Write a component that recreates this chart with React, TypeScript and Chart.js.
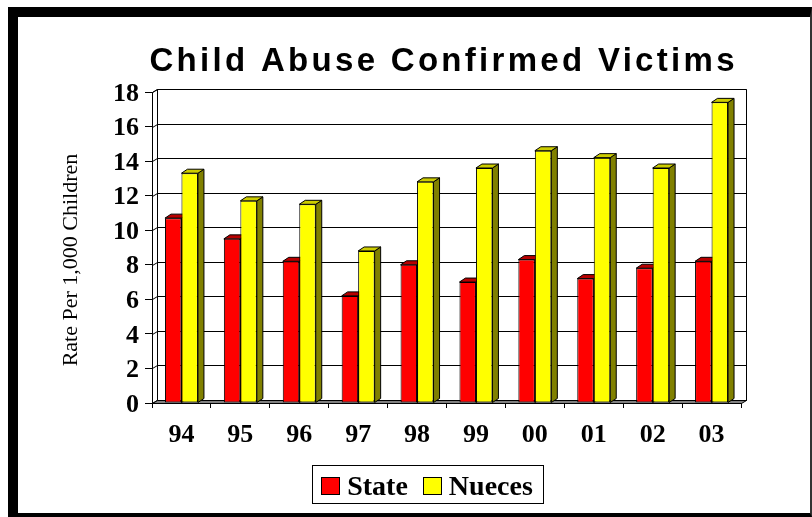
import React, { useEffect, useRef } from 'react';
import { Chart, registerables } from 'chart.js';

Chart.register(...registerables);

const TITLE = 'Child Abuse Confirmed Victims';
const Y_TITLE = 'Rate Per 1,000 Children';
const YEARS = ['94', '95', '96', '97', '98', '99', '00', '01', '02', '03'];
const STATE = [10.7, 9.5, 8.2, 6.2, 8.0, 7.0, 8.3, 7.2, 7.8, 8.2];
const NUECES = [13.3, 11.7, 11.5, 8.8, 12.8, 13.6, 14.6, 14.2, 13.6, 17.4];
const SERIES_NAMES = ['State', 'Nueces'];
const Y_MIN = 0;
const Y_MAX = 18;
const Y_STEP = 2;

const FRONT = ['#FF0000', '#FFFF00'];
const TOP = ['#B80000', '#CCCC00'];
const SIDE = ['#800000', '#808000'];

const SERIF = '"Liberation Serif", "Times New Roman", serif';
const SANS = '"Liberation Sans", Arial, sans-serif';

const WALL_DX = 5;
const WALL_DY = 3;
const BAR_DX = 6;
const BAR_DY = 4;

function poly(ctx: CanvasRenderingContext2D, pts: number[][], fill?: string) {
  ctx.beginPath();
  ctx.moveTo(pts[0][0], pts[0][1]);
  for (let i = 1; i < pts.length; i++) ctx.lineTo(pts[i][0], pts[i][1]);
  ctx.closePath();
  if (fill) {
    ctx.fillStyle = fill;
    ctx.fill();
  }
  ctx.stroke();
}

const threeD = {
  id: 'threeD',
  beforeDatasetsDraw(chart: any) {
    const { ctx, chartArea: a, scales } = chart;
    const y = scales.y;
    const L = Math.round(a.left) + 0.5;
    const R = Math.round(a.right) + 0.5;
    const T = Math.round(a.top) + 0.5;
    const B = Math.round(a.bottom) + 0.5;
    ctx.save();
    ctx.lineWidth = 1;
    ctx.strokeStyle = '#000';
    // left wall
    poly(ctx, [[L, T], [L + WALL_DX, T - WALL_DY], [L + WALL_DX, B - WALL_DY], [L, B]], '#FFFFFF');
    // back wall
    ctx.beginPath();
    ctx.rect(L + WALL_DX, T - WALL_DY, R - L, B - T);
    ctx.fillStyle = '#FFFFFF';
    ctx.fill();
    ctx.stroke();
    // grid lines
    for (let v = Y_MIN; v <= Y_MAX; v += Y_STEP) {
      const yy = Math.round(y.getPixelForValue(v)) + 0.5;
      ctx.beginPath();
      ctx.moveTo(L, yy);
      ctx.lineTo(L + WALL_DX, yy - WALL_DY);
      ctx.lineTo(R + WALL_DX, yy - WALL_DY);
      ctx.stroke();
    }
    // floor
    poly(ctx, [[L, B], [L + WALL_DX, B - WALL_DY], [R + WALL_DX, B - WALL_DY], [R, B]], '#808080');
    // bar faces
    chart.data.datasets.forEach((ds: any, i: number) => {
      const meta = chart.getDatasetMeta(i);
      meta.data.forEach((el: any) => {
        const p = el.getProps(['x', 'y', 'base', 'width'], true);
        const left = p.x - p.width / 2;
        const right = p.x + p.width / 2;
        const top = p.y;
        const base = p.base;
        poly(ctx, [[right, top], [right + BAR_DX, top - BAR_DY], [right + BAR_DX, base - BAR_DY], [right, base]], SIDE[i]);
        poly(ctx, [[left, top], [left + BAR_DX, top - BAR_DY], [right + BAR_DX, top - BAR_DY], [right, top]], TOP[i]);
      });
    });
    ctx.restore();
  },
  afterDraw(chart: any) {
    const { ctx } = chart;
    ctx.save();
    // title
    ctx.fillStyle = '#000';
    ctx.font = `bold 33px ${SANS}`;
    const ls = 3.3;
    (ctx as any).letterSpacing = `${ls}px`;
    const tw = ctx.measureText(TITLE).width - ls;
    ctx.textAlign = 'left';
    ctx.textBaseline = 'alphabetic';
    ctx.fillText(TITLE, 442 - tw / 2, 70.5);
    (ctx as any).letterSpacing = '0px';

    // y axis title
    ctx.save();
    ctx.translate(77, 260);
    ctx.rotate(-Math.PI / 2);
    ctx.font = `22px ${SERIF}`;
    ctx.textAlign = 'center';
    ctx.textBaseline = 'alphabetic';
    ctx.fillText(Y_TITLE, 0, 0);
    ctx.restore();

    // legend
    ctx.font = `bold 28px ${SERIF}`;
    const boxW = 18;
    const boxH = 17;
    const gap = 8;
    const itemGap = 15;
    const widths = chart.data.datasets.map((d: any) => ctx.measureText(d.label).width);
    let total = 0;
    widths.forEach((w: number, i: number) => {
      total += boxW + gap + w + (i > 0 ? itemGap : 0);
    });
    const center = 427;
    let cx = center - total / 2;
    const fx = Math.round(cx - 9) + 0.5;
    const fw = Math.round(total + 19);
    ctx.lineWidth = 1;
    ctx.strokeStyle = '#000';
    ctx.strokeRect(fx, 465.5, fw, 38);
    chart.data.datasets.forEach((d: any, i: number) => {
      ctx.fillStyle = d.backgroundColor;
      const bx = Math.round(cx) + 0.5;
      ctx.fillRect(bx, 477.5, boxW, boxH);
      ctx.strokeRect(bx, 477.5, boxW, boxH);
      ctx.fillStyle = '#000';
      ctx.textBaseline = 'alphabetic';
      ctx.fillText(d.label, cx + boxW + gap, 495);
      cx += boxW + gap + widths[i] + itemGap;
    });
    ctx.restore();
  },
};

export default function App() {
  const ref = useRef<HTMLCanvasElement | null>(null);
  useEffect(() => {
    if (!ref.current) return;
    const chart = new Chart(ref.current, {
      type: 'bar',
      data: {
        labels: YEARS,
        datasets: [
          {
            label: SERIES_NAMES[0],
            data: STATE,
            backgroundColor: FRONT[0],
            borderColor: '#000',
            borderWidth: 1,
            borderSkipped: false,
          },
          {
            label: SERIES_NAMES[1],
            data: NUECES,
            backgroundColor: FRONT[1],
            borderColor: '#000',
            borderWidth: 1,
            borderSkipped: false,
          },
        ],
      },
      options: {
        responsive: false,
        animation: false,
        devicePixelRatio: 1,
        layout: { padding: { left: 0, right: 71, top: 92, bottom: 74 } },
        datasets: { bar: { categoryPercentage: 0.56, barPercentage: 1 } },
        plugins: {
          legend: { display: false },
          title: { display: false },
          tooltip: { enabled: false },
        },
        scales: {
          x: {
            type: 'category',
            offset: true,
            grid: {
              display: true,
              offset: true,
              drawOnChartArea: false,
              drawTicks: true,
              tickLength: 5,
              color: '#000',
            },
            border: { display: false },
            ticks: {
              color: '#000',
              padding: 12,
              font: { family: SERIF, size: 26, weight: 'bold' },
            },
            afterFit: (s: any) => {
              s.height = 40;
            },
          },
          y: {
            min: Y_MIN,
            max: Y_MAX,
            grid: {
              display: true,
              drawOnChartArea: false,
              drawTicks: true,
              tickLength: 7,
              color: '#000',
            },
            border: { display: true, color: '#000' },
            ticks: {
              stepSize: Y_STEP,
              color: '#000',
              padding: 6,
              labelOffset: 2,
              font: { family: SERIF, size: 26, weight: 'bold' },
            },
            afterFit: (s: any) => {
              s.width = 152;
            },
          },
        },
      },
      plugins: [threeD],
    } as any);
    return () => chart.destroy();
  }, []);

  return (
    <div style={{ position: 'fixed', left: 0, top: 0, width: 812, height: 517, background: '#fff' }}>
      <div
        style={{
          position: 'absolute',
          left: 8,
          top: 7,
          width: 804,
          height: 510,
          boxSizing: 'border-box',
          borderTop: '10px solid #000',
          borderLeft: '10px solid #000',
          borderRight: '2px solid #333',
          borderBottom: '4px solid #000',
        }}
      />
      <canvas ref={ref} width={812} height={517} style={{ position: 'absolute', left: 0, top: 0, width: 812, height: 517 }} />
    </div>
  );
}
